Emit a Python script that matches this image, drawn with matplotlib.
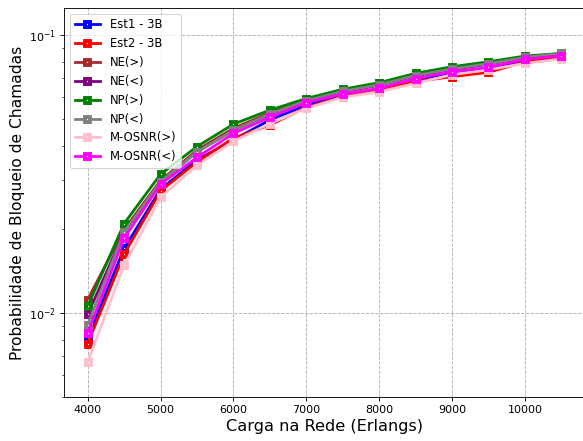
import matplotlib
matplotlib.use("Agg")
import matplotlib.pyplot as plt

# Carga na rede (Erlangs)
carga = [4000, 4500, 5000, 5500, 6000, 6500, 7000, 7500, 8000, 8500, 9000, 9500, 10000, 10500]

# Probabilidade de bloqueio por estrategia
est1_3b = [0.00815, 0.0171, 0.0279, 0.0355, 0.0420, 0.0495, 0.0560, 0.0608, 0.0640, 0.0690, 0.0730, 0.0760, 0.0812, 0.0840]
est2_3b = [0.00778, 0.0163, 0.0275, 0.0350, 0.0426, 0.0474, 0.0550, 0.0600, 0.0635, 0.0680, 0.0708, 0.0734, 0.0800, 0.0835]
ne_maior = [0.0112, 0.0200, 0.0300, 0.0385, 0.0462, 0.0525, 0.0585, 0.0632, 0.0670, 0.0720, 0.0760, 0.0792, 0.0832, 0.0855]
ne_menor = [0.0099, 0.0195, 0.0296, 0.0380, 0.0455, 0.0518, 0.0578, 0.0625, 0.0660, 0.0712, 0.0752, 0.0785, 0.0828, 0.0852]
np_maior = [0.0106, 0.0210, 0.0316, 0.0397, 0.0478, 0.0537, 0.0591, 0.0638, 0.0674, 0.0728, 0.0769, 0.0801, 0.0840, 0.0859]
np_menor = [0.0091, 0.0196, 0.0297, 0.0380, 0.0455, 0.0520, 0.0580, 0.0628, 0.0662, 0.0715, 0.0755, 0.0788, 0.0830, 0.0860]
mosnr_maior = [0.00668, 0.0149, 0.0261, 0.0340, 0.0415, 0.0480, 0.0545, 0.0597, 0.0625, 0.0670, 0.0720, 0.0750, 0.0790, 0.0820]
mosnr_menor = [0.0085, 0.0186, 0.0291, 0.0363, 0.0443, 0.0506, 0.0571, 0.0614, 0.0643, 0.0697, 0.0738, 0.0765, 0.0818, 0.0843]

series = [
    ("Est1 - 3B", est1_3b, "blue"),
    ("Est2 - 3B", est2_3b, "red"),
    ("NE(>)", ne_maior, "brown"),
    ("NE(<)", ne_menor, "purple"),
    ("NP(>)", np_maior, "green"),
    ("NP(<)", np_menor, "gray"),
    ("M-OSNR(>)", mosnr_maior, "pink"),
    ("M-OSNR(<)", mosnr_menor, "magenta"),
]

fig = plt.figure(figsize=(583 / 80, 441 / 80), dpi=80)
ax = fig.add_axes([64 / 583, 44 / 441, 521 / 583, 389 / 441])

for nome, valores, cor in series:
    ax.plot(carga, valores, marker="s", color=cor, linewidth=2.5,
            markersize=4.5, markeredgewidth=3.5, markerfacecolor="white", label=nome)

ax.set_yscale("log")
ax.set_ylim(0.005, 0.125)
ax.set_xlabel("Carga na Rede (Erlangs)", fontsize=14.5)
ax.set_ylabel("Probabilidade de Bloqueio de Chamadas", fontsize=14)
ax.grid(True, linestyle="--", color="#b0b0b0")
ax.legend(loc="upper left", fontsize=10.5, handlelength=2.2)

fig.savefig("out.png", dpi=80)
